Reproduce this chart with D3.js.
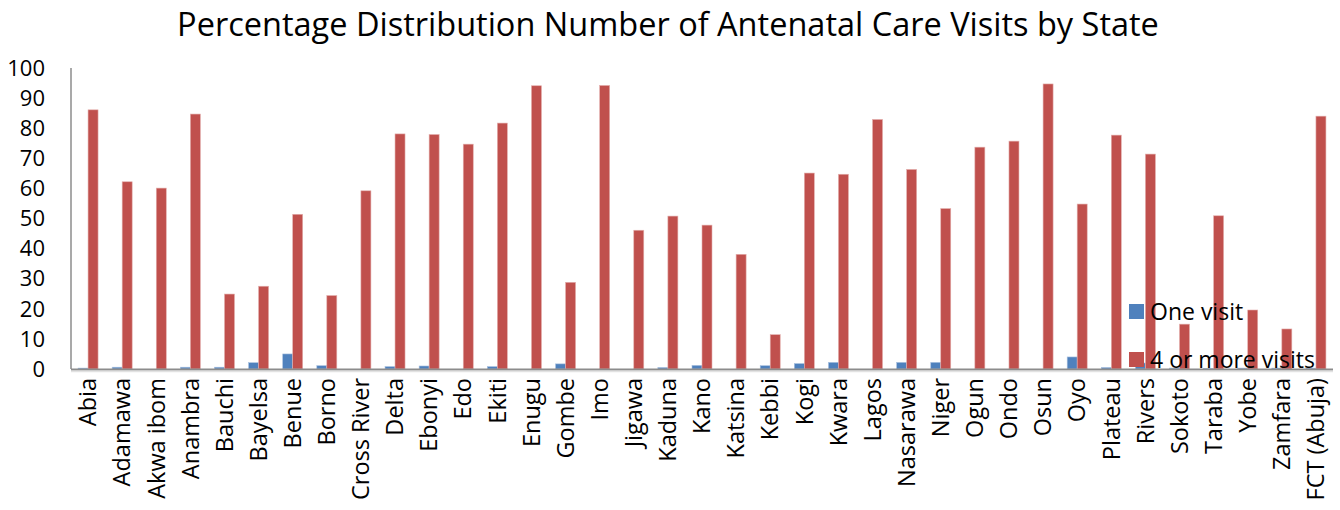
<!DOCTYPE html>
<html>
<head>
<meta charset="utf-8">
<script src="https://cdn.jsdelivr.net/npm/d3@7"></script>
<style>
  body { margin: 0; background: #fff; }
  text { font-family: "Open Sans", "Noto Sans", sans-serif; fill: #000; }
</style>
</head>
<body>
<svg id="chart" width="1340" height="510"></svg>
<script>
// states along the x axis
const states = ['Abia', 'Adamawa', 'Akwa ibom', 'Anambra', 'Bauchi', 'Bayelsa', 'Benue', 'Borno',
  'Cross River', 'Delta', 'Ebonyi', 'Edo', 'Ekiti', 'Enugu', 'Gombe', 'Imo', 'Jigawa', 'Kaduna',
  'Kano', 'Katsina', 'Kebbi', 'Kogi', 'Kwara', 'Lagos', 'Nasarawa', 'Niger', 'Ogun', 'Ondo',
  'Osun', 'Oyo', 'Plateau', 'Rivers', 'Sokoto', 'Taraba', 'Yobe', 'Zamfara', 'FCT (Abuja)'];

// percentage with one visit
const oneVisit = [0.3, 0.6, 0, 0.6, 0.6, 2.1, 5.0, 1.1, 0, 0.8, 1.0, 0, 0.8, 0, 1.7, 0, 0, 0.5,
  1.2, 0, 1.1, 1.8, 2.2, 0, 2.2, 2.2, 0, 0, 0, 4.0, 0.5, 2.0, 0.3, 0.2, 0.3, 0.3, 0.3];

// percentage with 4 or more visits
const fourPlus = [86.1, 62.2, 60.1, 84.7, 24.9, 27.5, 51.4, 24.4, 59.2, 78.1, 77.9, 74.7, 81.7,
  94.1, 28.8, 94.2, 46.1, 50.8, 47.8, 38.1, 11.4, 65.1, 64.7, 82.9, 66.3, 53.3, 73.7, 75.7,
  94.7, 54.8, 77.7, 71.4, 14.9, 50.9, 19.6, 13.3, 84.0];

const yTicks = [0, 10, 20, 30, 40, 50, 60, 70, 80, 90, 100];

const seriesNames = ['One visit', '4 or more visits'];
const colors = ['#4F81BD', '#C0504D'];

const rows = states.map((s, i) => ({ state: s, values: [oneVisit[i], fourPlus[i]] }));

const plotLeft = 71, plotRight = 1333, plotTop = 68, plotBottom = 369;

const svg = d3.select('#chart');

const x = d3.scaleBand()
  .domain(states)
  .range([plotLeft, plotRight]);

const sub = d3.scaleBand()
  .domain([0, 1])
  .range([x.bandwidth() / 2 - 10, x.bandwidth() / 2 + 10]);

const y = d3.scaleLinear()
  .domain([0, 100])
  .range([plotBottom, plotTop]);

// title
svg.append('text')
  .attr('x', 668)
  .attr('y', 36)
  .attr('text-anchor', 'middle')
  .style('font-size', '32.5px')
  .text('Percentage Distribution Number of Antenatal Care Visits by State');

// y axis labels
svg.append('g')
  .selectAll('text')
  .data(yTicks)
  .join('text')
    .attr('x', 45)
    .attr('y', d => y(d))
    .attr('dy', '0.35em')
    .attr('text-anchor', 'end')
    .style('font-size', '22px')
    .text(d => d);

// bars
const groups = svg.append('g')
  .selectAll('g')
  .data(rows)
  .join('g')
    .attr('transform', d => `translate(${x(d.state)},0)`);

groups.selectAll('rect')
  .data(d => d.values)
  .join('rect')
    .attr('x', (d, i) => sub(i))
    .attr('width', sub.bandwidth())
    .attr('y', d => y(d))
    .attr('height', d => plotBottom - y(d))
    .attr('fill', (d, i) => colors[i])
    .attr('stroke', (d, i) => i ? '#E3AFAD' : '#A9C0DE')
    .attr('stroke-width', 0.6);

// axis lines
svg.append('line')
  .attr('x1', plotLeft).attr('x2', plotLeft)
  .attr('y1', plotTop).attr('y2', plotBottom)
  .attr('stroke', '#8c8c8c').attr('stroke-width', 1.5);
svg.append('line')
  .attr('x1', plotLeft).attr('x2', plotRight)
  .attr('y1', plotBottom + 0.5).attr('y2', plotBottom + 0.5)
  .attr('stroke', '#8c8c8c').attr('stroke-width', 2);
svg.append('line')
  .attr('x1', plotLeft).attr('x2', plotRight)
  .attr('y1', plotBottom + 2.5).attr('y2', plotBottom + 2.5)
  .attr('stroke', '#e2e2e2').attr('stroke-width', 1.5);

// category labels, rotated
svg.append('g')
  .selectAll('text')
  .data(states)
  .join('text')
    .attr('transform', d => `translate(${x(d) + x.bandwidth() / 2},378) rotate(-90)`)
    .attr('dy', '0.35em')
    .attr('text-anchor', 'end')
    .style('font-size', '23.5px')
    .text(d => d);

// legend
const legend = svg.append('g')
  .selectAll('g')
  .data(seriesNames)
  .join('g')
    .attr('transform', (d, i) => `translate(1129,${304 + i * 48})`);

legend.append('rect')
  .attr('width', 15)
  .attr('height', 15)
  .attr('fill', (d, i) => colors[i]);

legend.append('text')
  .attr('x', 21)
  .attr('y', 8)
  .attr('dy', '0.35em')
  .style('font-size', '23px')
  .text(d => d);
</script>
</body>
</html>
